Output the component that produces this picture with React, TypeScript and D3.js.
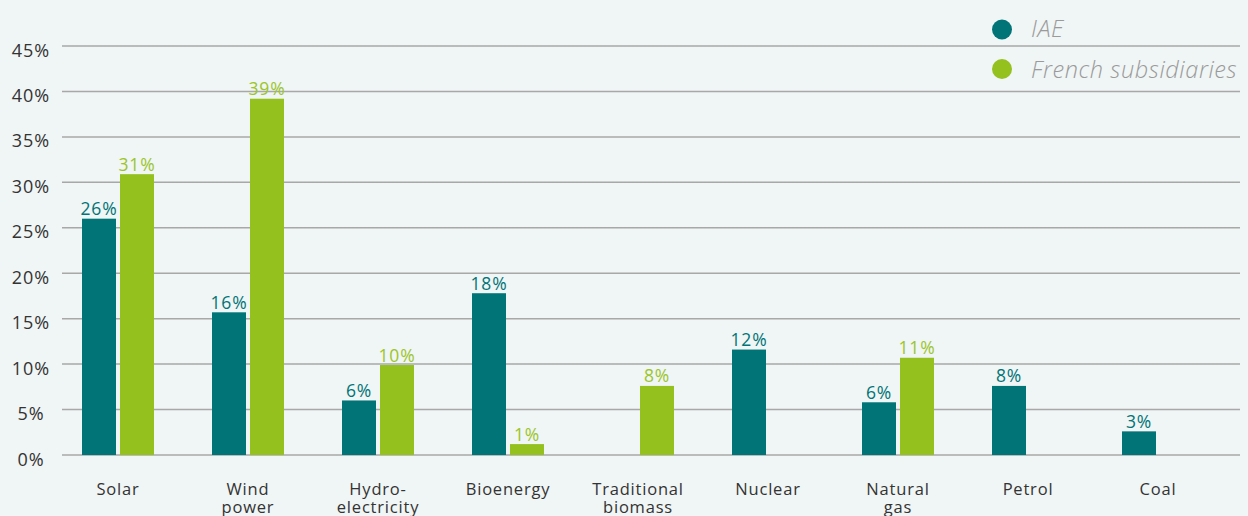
import React from "react";
import * as d3 from "d3";

const categoryLines: string[][] = [
  ["Solar"],
  ["Wind", "power"],
  ["Hydro-", "electricity"],
  ["Bioenergy"],
  ["Traditional", "biomass"],
  ["Nuclear"],
  ["Natural", "gas"],
  ["Petrol"],
  ["Coal"],
];
const categories = categoryLines.map((l) => l.join(" "));

const seriesNames = ["IAE", "French subsidiaries"];
const iaeValues: (number | null)[] = [26, 15.7, 6, 17.8, null, 11.6, 5.8, 7.6, 2.6];
const frenchValues: (number | null)[] = [30.9, 39.2, 9.9, 1.2, 7.6, null, 10.7, null, null];
const yTicks = [0, 5, 10, 15, 20, 25, 30, 35, 40, 45];

const COLORS = ["#007477", "#95c11f"];
const LABEL_COLORS = ["#007477", "#9cc52a"];
const W = 1248;
const H = 516;
const FONT = "'Open Sans', sans-serif";

export default function App() {
  const y = d3.scaleLinear().domain([0, 45]).range([455, 46]);
  const x = d3.scaleBand<string>().domain(categories).range([53, 1223]).padding(0);
  const x1 = d3.scaleBand<string>().domain(seriesNames).range([-36, 36]).paddingInner(0.105).paddingOuter(0);
  const seriesValues = [iaeValues, frenchValues];

  return (
    <div style={{ position: "absolute", left: 0, top: 0, width: W, height: H, background: "#f0f5f5" }}>
      <svg width={W} height={H} style={{ display: "block" }} fontFamily={FONT}>
        <rect x={0} y={0} width={W} height={H} fill="#f0f5f5" />
        {yTicks.map((t) => (
          <g key={t}>
            <line x1={62} x2={1240} y1={y(t)} y2={y(t)} stroke="#a8a8a8" strokeWidth={1.5} />
            <text x={31} y={y(t) + 10.5} textAnchor="middle" fontSize={18} fill="#333" letterSpacing={1}>
              {t}%
            </text>
          </g>
        ))}
        {categories.map((c, i) => {
          const cx = (x(c) as number) + x.bandwidth() / 2;
          return (
            <g key={c}>
              {seriesNames.map((s, si) => {
                const v = seriesValues[si][i];
                if (v == null) return null;
                const bx = cx + (x1(s) as number);
                const bw = x1.bandwidth();
                return (
                  <g key={s}>
                    <rect x={bx} y={y(v)} width={bw} height={y(0) - y(v)} fill={COLORS[si]} />
                    <text
                      x={bx + bw / 2}
                      y={y(v) - 3.5}
                      textAnchor="middle"
                      fontSize={17.5}
                      fill={LABEL_COLORS[si]}
                      letterSpacing={0.8}
                    >
                      {Math.round(v)}%
                    </text>
                  </g>
                );
              })}
              {categoryLines[i].map((line, li) => (
                <text
                  key={li}
                  x={cx}
                  y={495 + li * 18}
                  textAnchor="middle"
                  fontSize={16.5}
                  fill="#333"
                  letterSpacing={0.8}
                >
                  {line}
                </text>
              ))}
            </g>
          );
        })}
        {seriesNames.map((s, si) => (
          <g key={s}>
            <circle cx={1002} cy={29.5 + si * 39.5} r={10} fill={COLORS[si]} />
            <text
              x={1031}
              y={37 + si * 41}
              fontSize={23.5}
              fontStyle="italic"
              fontWeight={300}
              fill="#9a9a9a"
              letterSpacing={0.6}
            >
              {s}
            </text>
          </g>
        ))}
      </svg>
    </div>
  );
}
